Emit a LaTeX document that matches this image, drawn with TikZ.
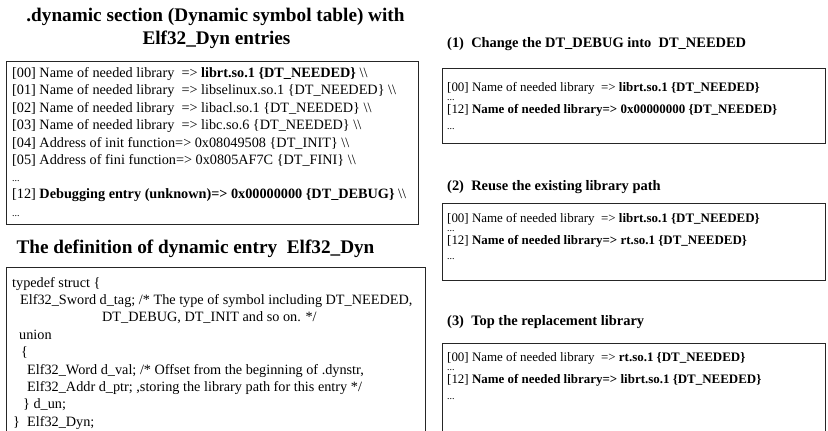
\documentclass[tikz,border=0pt]{standalone}
\usepackage{fontspec}
\setmainfont{Liberation Serif}
\begin{document}
\begin{tikzpicture}[x=1bp,y=-1bp,
  box/.style={draw=black!85,line width=0.9bp},
  ln/.style={anchor=base west,inner sep=0pt,font=\fontsize{14.3}{16}\selectfont},
  rln/.style={anchor=base west,inner sep=0pt,font=\fontsize{13}{14}\selectfont},
  dots/.style={anchor=base west,inner sep=0pt,font=\fontsize{10}{11}\selectfont},
  ttl/.style={anchor=base,inner sep=0pt,font=\fontsize{19.3}{21}\selectfont\bfseries},
  rttl/.style={anchor=base west,inner sep=0pt,font=\fontsize{14.5}{16}\selectfont\bfseries}]
\useasboundingbox (0,0) rectangle (828,430);
% ---------- left: dynamic section ----------
\node[ttl] (t1a) at (215.5,21.5) {.dynamic section (Dynamic symbol table) with};
\node[ttl] (t1b) at (216.5,44.5) {Elf32\_Dyn entries};
\draw[box] (6,61) rectangle (418,224);
\node[ln] (a0) at (12,77) {[00] Name of needed library\ \ => \textbf{librt.so.1 \{DT\_NEEDED\}} \textbackslash\textbackslash};
\node[ln] (a1) at (12,94.5) {[01] Name of needed library\ \ => libselinux.so.1 \{DT\_NEEDED\} \textbackslash\textbackslash};
\node[ln] (a2) at (12,112) {[02] Name of needed library\ \ => libacl.so.1 \{DT\_NEEDED\} \textbackslash\textbackslash};
\node[ln] (a3) at (12,129.5) {[03] Name of needed library\ \ => libc.so.6 \{DT\_NEEDED\} \textbackslash\textbackslash};
\node[ln] (a4) at (12,147) {[04] Address of init function=> 0x08049508 \{DT\_INIT\} \textbackslash\textbackslash};
\node[ln] (a5) at (12,164) {[05] Address of fini function=> 0x0805AF7C \{DT\_FINI\} \textbackslash\textbackslash};
\node[dots] (a6) at (12,181) {...};
\node[ln] (a7) at (12,198) {[12] \textbf{Debugging entry (unknown)=> 0x00000000 \{DT\_DEBUG\}} \textbackslash\textbackslash};
\node[dots] (a8) at (12,216) {...};
% ---------- left: definition ----------
\node[ttl] (t2) at (195.5,253.5) {The definition of dynamic entry\ \ Elf32\_Dyn};
\draw[box] (6,267) rectangle (425,435);
\node[ln] (b0) at (12,287) {typedef struct \{};
\node[ln] (b1) at (20,304.4) {Elf32\_Sword d\_tag; /* The type of symbol including DT\_NEEDED,};
\node[ln] (b2) at (102,321.8) {DT\_DEBUG, DT\_INIT and so on. */};
\node[ln] (b3) at (19,339.2) {union};
\node[ln] (b4) at (21,356.6) {\{};
\node[ln] (b5) at (27,374) {Elf32\_Word d\_val; /* Offset from the beginning of .dynstr,};
\node[ln] (b6) at (27,391.4) {Elf32\_Addr d\_ptr; ,storing the library path for this entry */};
\node[ln] (b7) at (23,408.8) {\} d\_un;};
\node[ln] (b8) at (13,426.2) {\}\ \ Elf32\_Dyn;};
% ---------- right (1) ----------
\node[rttl] (r1t) at (447,47) {(1)\ \ Change the DT\_DEBUG into\ \ DT\_NEEDED};
\draw[box] (442,68) rectangle (825,143);
\node[rln] (r1a) at (447,91) {[00] Name of needed library\ \ => \textbf{librt.so.1 \{DT\_NEEDED\}}};
\node[dots] (r1b) at (447,100) {...};
\node[rln] (r1c) at (447,113) {[12] \textbf{Name of needed library=> 0x00000000 \{DT\_NEEDED\}}};
\node[dots] (r1d) at (447,129) {...};
% ---------- right (2) ----------
\node[rttl] (r2t) at (447,190) {(2)\ \ Reuse the existing library path};
\draw[box] (442,203) rectangle (825,280);
\node[rln] (r2a) at (447,222) {[00] Name of needed library\ \ => \textbf{librt.so.1 \{DT\_NEEDED\}}};
\node[dots] (r2b) at (447,231) {...};
\node[rln] (r2c) at (447,244) {[12] \textbf{Name of needed library=> rt.so.1 \{DT\_NEEDED\}}};
\node[dots] (r2d) at (447,259) {...};
% ---------- right (3) ----------
\node[rttl] (r3t) at (447,325) {(3)\ \ Top the replacement library};
\draw[box] (442,343) rectangle (825,435);
\node[rln] (r3a) at (447,361) {[00] Name of needed library\ \ => \textbf{rt.so.1 \{DT\_NEEDED\}}};
\node[dots] (r3b) at (447,370) {...};
\node[rln] (r3c) at (447,383) {[12] \textbf{Name of needed library=> librt.so.1 \{DT\_NEEDED\}}};
\node[dots] (r3d) at (447,399) {...};
\end{tikzpicture}
\end{document}
